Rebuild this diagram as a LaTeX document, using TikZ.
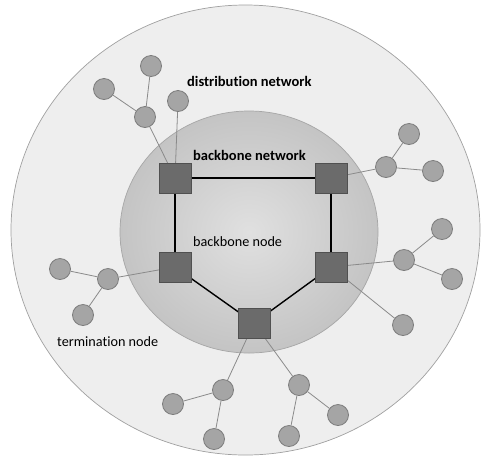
\documentclass[tikz,border=0pt]{standalone}
\usepackage{fontspec}
\setmainfont{Carlito}[Ligatures={NoCommon}]
\usetikzlibrary{backgrounds}
\pgfdeclarelayer{zone}
\pgfdeclarelayer{links}
\pgfsetlayers{zone,links,main}
\definecolor{outerfill}{HTML}{EEEEEE}
\definecolor{outerline}{HTML}{A0A0A0}
\definecolor{innerin}{HTML}{E0E0E0}
\definecolor{innerout}{HTML}{C4C4C4}
\definecolor{innerline}{HTML}{A6A6A6}
\definecolor{bbfill}{HTML}{6B6B6B}
\definecolor{bbline}{HTML}{505050}
\definecolor{tnfill}{HTML}{A5A5A5}
\definecolor{tnline}{HTML}{7C7C7C}
\definecolor{linkgray}{HTML}{8A8A8A}
\tikzset{
  bbnode/.style={rectangle, draw=bbline, fill=bbfill, line width=0.9pt, minimum width=32pt, minimum height=30pt, inner sep=0pt},
  tnode/.style={circle, draw=tnline, fill=tnfill, line width=0.8pt, minimum size=21pt, inner sep=0pt},
  bblink/.style={draw=black, line width=1.4pt},
  dlink/.style={draw=linkgray, line width=0.8pt},
  boldlabel/.style={font=\fontsize{14.5}{16}\selectfont\bfseries, inner sep=0pt, anchor=west},
  plainlabel/.style={font=\fontsize{14.2}{16}\selectfont, inner sep=0pt, anchor=west}
}
\begin{document}
\begin{tikzpicture}[x=1pt,y=-1pt]
\useasboundingbox (0,0) rectangle (481,456);
% zones
\begin{pgfonlayer}{zone}
\draw[draw=outerline, fill=outerfill, line width=0.7pt] (245.5,230) ellipse [x radius=234.5, y radius=225];
\shade[inner color=innerin, outer color=innerout] (249,232) ellipse [x radius=129, y radius=121];
\draw[draw=innerline, line width=0.7pt] (249,232) ellipse [x radius=129, y radius=121];
\end{pgfonlayer}
% backbone nodes
\node[bbnode] (tl) at (175,178) {};
\node[bbnode] (tr) at (331,178) {};
\node[bbnode] (ml) at (175,267) {};
\node[bbnode] (mr) at (331,267) {};
\node[bbnode] (bt) at (254,323) {};
% termination nodes
\node[tnode] (c1) at (151,66) {};
\node[tnode] (c2) at (104,89) {};
\node[tnode] (c3) at (145,117) {};
\node[tnode] (c4) at (178,101) {};
\node[tnode] (c5) at (409,134) {};
\node[tnode] (c6) at (386,167) {};
\node[tnode] (c7) at (433,171) {};
\node[tnode] (c8) at (404,260) {};
\node[tnode] (c9) at (442,229) {};
\node[tnode] (c10) at (452,279) {};
\node[tnode] (c11) at (403,325) {};
\node[tnode] (c12) at (60,269) {};
\node[tnode] (c13) at (108,279) {};
\node[tnode] (c14) at (83,315) {};
\node[tnode] (c15) at (223,390) {};
\node[tnode] (c16) at (173,404) {};
\node[tnode] (c17) at (214,439) {};
\node[tnode] (c18) at (299,385) {};
\node[tnode] (c19) at (338,415) {};
\node[tnode] (c20) at (289,436) {};
% links
\begin{pgfonlayer}{links}
\draw[bblink] (tl.center) -- (tr.center);
\draw[bblink] (tl.center) -- (ml.center);
\draw[bblink] (tr.center) -- (mr.center);
\draw[bblink] (ml.center) -- (bt.center);
\draw[bblink] (mr.center) -- (bt.center);
\draw[dlink] (c3) -- (c1);
\draw[dlink] (c3) -- (c2);
\draw[dlink] (c3) -- (tl.center);
\draw[dlink] (c4) -- (tl.center);
\draw[dlink] (c6) -- (c5);
\draw[dlink] (c6) -- (c7);
\draw[dlink] (c6) -- (tr.center);
\draw[dlink] (c8) -- (c9);
\draw[dlink] (c8) -- (c10);
\draw[dlink] (c8) -- (mr.center);
\draw[dlink] (c11) -- (mr.center);
\draw[dlink] (c13) -- (c12);
\draw[dlink] (c13) -- (c14);
\draw[dlink] (c13) -- (ml.center);
\draw[dlink] (c15) -- (c16);
\draw[dlink] (c15) -- (c17);
\draw[dlink] (c15) -- (bt.center);
\draw[dlink] (c18) -- (c19);
\draw[dlink] (c18) -- (c20);
\draw[dlink] (c18) -- (bt.center);
\end{pgfonlayer}
% labels
\node[boldlabel] (ldist) at (187,81) {distribution network};
\node[boldlabel] (lbb) at (193,155) {backbone network};
\node[plainlabel] (lbbn) at (193,242) {backbone node};
\node[plainlabel] (lterm) at (57,342) {termination node};
\end{tikzpicture}
\end{document}
